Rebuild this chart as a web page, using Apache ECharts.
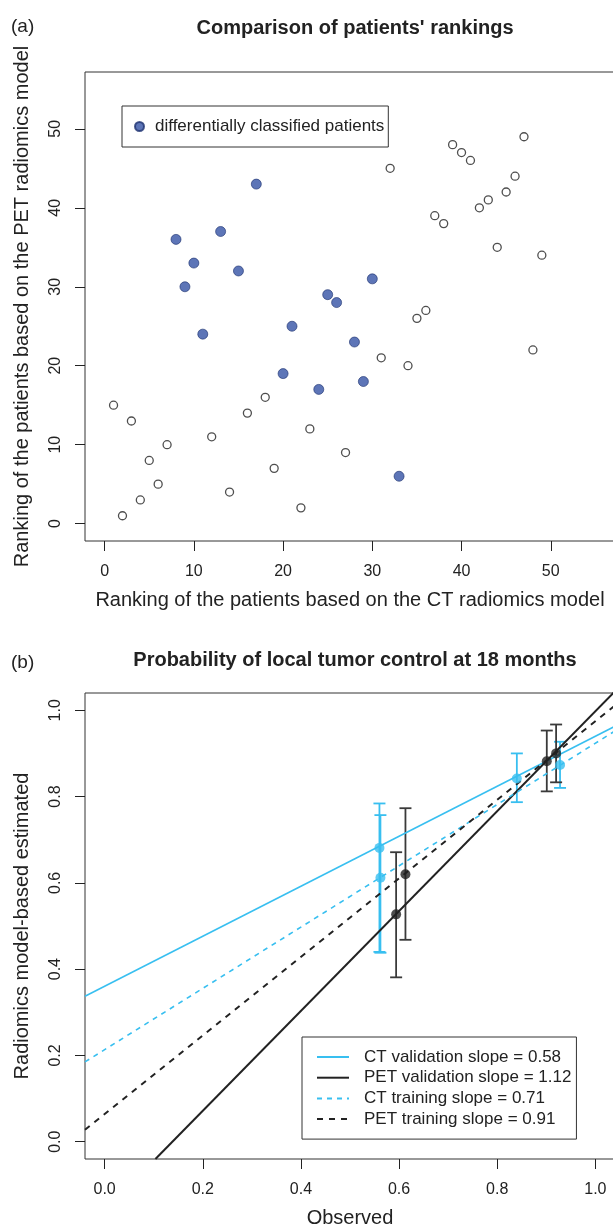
<!DOCTYPE html>
<html>
<head>
<meta charset="utf-8">
<script src="https://cdn.jsdelivr.net/npm/echarts@6/dist/echarts.min.js"></script>
<style>
  html, body { margin: 0; padding: 0; background: #fff; overflow: hidden; }
  #chart { width: 616px; height: 1229px; }
</style>
</head>
<body>
<div id="chart"></div>
<script>
// Panel (a): patient rankings, CT model (x) vs PET model (y)
const openCT = [1, 2, 3, 4, 5, 6, 7, 12, 14, 16, 18, 19, 22, 23, 27, 31, 32, 34, 35, 36, 37, 38, 39, 40, 41, 42, 43, 44, 45, 46, 47, 48, 49];
const openPET = [15, 1, 13, 3, 8, 5, 10, 11, 4, 14, 16, 7, 2, 12, 9, 21, 45, 20, 26, 27, 39, 38, 48, 47, 46, 40, 41, 35, 42, 44, 49, 22, 34];
const diffCT = [8, 9, 10, 11, 13, 15, 17, 20, 21, 24, 25, 26, 28, 29, 30, 33];
const diffPET = [36, 30, 33, 24, 37, 32, 43, 19, 25, 17, 29, 28, 23, 18, 31, 6];
const rankTicks = [0, 10, 20, 30, 40, 50];

// Panel (b): calibration points with error bars
const ctObs = [0.56, 0.562, 0.84, 0.928];
const ctEst = [0.681, 0.612, 0.842, 0.873];
const ctLow = [0.44, 0.438, 0.787, 0.82];
const ctHigh = [0.784, 0.757, 0.9, 0.927];
const petObs = [0.594, 0.613, 0.901, 0.92];
const petEst = [0.527, 0.62, 0.882, 0.9];
const petLow = [0.381, 0.468, 0.812, 0.833];
const petHigh = [0.671, 0.773, 0.953, 0.967];

// fitted calibration lines, end points
const ctValLine = [[-0.04, 0.337], [1.04, 0.963]];
const petValLine = [[0.1035, -0.04], [1.04, 1.044]];
const ctTrainLine = [[-0.04, 0.185], [1.04, 0.952]];
const petTrainLine = [[-0.04, 0.028], [1.04, 1.011]];
const probTicks = [0, 0.2, 0.4, 0.6, 0.8, 1.0];

const lineNames = [
  "CT validation slope = 0.58",
  "PET validation slope = 1.12",
  "CT training slope = 0.71",
  "PET training slope = 0.91",
];

const CYAN = "#38bff0";
const BLACK = "#222222";
const NAVY = "#3453a5";
const FONT = "Liberation Sans, Arial, sans-serif";

const chart = echarts.init(document.getElementById("chart"), null, { renderer: "canvas" });

function zip(a, b) {
  return a.map((v, i) => [v, b[i]]);
}

function errorBars(color, width) {
  return function (params, api) {
    const x = api.value(0);
    const lo = api.coord([x, api.value(1)]);
    const hi = api.coord([x, api.value(2)]);
    const w = 6;
    const style = { stroke: color, lineWidth: width };
    return {
      type: "group",
      children: [
        { type: "line", shape: { x1: lo[0], y1: lo[1], x2: hi[0], y2: hi[1] }, style: style },
        { type: "line", shape: { x1: lo[0] - w, y1: lo[1], x2: lo[0] + w, y2: lo[1] }, style: style },
        { type: "line", shape: { x1: hi[0] - w, y1: hi[1], x2: hi[0] + w, y2: hi[1] }, style: style },
      ],
    };
  };
}

const axisCommon = {
  type: "value",
  splitLine: { show: false },
  axisLine: { show: false, onZero: false },
  axisTick: { show: true, inside: false, length: 10, lineStyle: { color: BLACK, width: 1 } },
  nameTextStyle: { color: BLACK, fontSize: 20, fontFamily: FONT },
  nameLocation: "middle",
};

const labelStyle = { color: BLACK, fontSize: 16, fontFamily: FONT };
const titleStyle = { fontSize: 20, fontWeight: "bold", color: BLACK, fontFamily: FONT };
const tagStyle = { fontSize: 19, fontWeight: "normal", color: BLACK, fontFamily: FONT };

const option = {
  backgroundColor: "#fff",
  animation: false,
  title: [
    { text: "(a)", left: 6, top: 12, textStyle: tagStyle },
    { text: "Comparison of patients' rankings", left: 350, top: 13, textAlign: "center", textStyle: titleStyle },
    { text: "(b)", left: 6, top: 648, textStyle: tagStyle },
    { text: "Probability of local tumor control at 18 months", left: 350, top: 645, textAlign: "center", textStyle: titleStyle },
  ],
  grid: [
    { left: 85, top: 72, width: 530, height: 469, show: true, borderColor: "#333", borderWidth: 1, backgroundColor: "transparent" },
    { left: 85, top: 693, width: 530, height: 468, show: true, borderColor: "#333", borderWidth: 1, backgroundColor: "transparent" },
  ],
  xAxis: [
    Object.assign({}, axisCommon, {
      gridIndex: 0, min: -2.2, max: 57.2,
      name: "Ranking of the patients based on the CT radiomics model", nameGap: 49,
      axisTick: Object.assign({}, axisCommon.axisTick, { customValues: rankTicks }),
      axisLabel: Object.assign({}, labelStyle, { customValues: rankTicks, margin: 23 }),
    }),
    Object.assign({}, axisCommon, {
      gridIndex: 1, min: -0.04, max: 1.04,
      name: "Observed", nameGap: 49,
      axisTick: Object.assign({}, axisCommon.axisTick, { customValues: probTicks }),
      axisLabel: Object.assign({}, labelStyle, { customValues: probTicks, margin: 23, formatter: (v) => v.toFixed(1) }),
    }),
  ],
  yAxis: [
    Object.assign({}, axisCommon, {
      gridIndex: 0, min: -2.2, max: 57.2,
      name: "Ranking of the patients based on the PET radiomics model", nameGap: 53,
      axisTick: Object.assign({}, axisCommon.axisTick, { customValues: rankTicks }),
      axisLabel: Object.assign({}, labelStyle, { customValues: rankTicks, margin: 21, rotate: 90 }),
    }),
    Object.assign({}, axisCommon, {
      gridIndex: 1, min: -0.04, max: 1.04,
      name: "Radiomics model-based estimated", nameGap: 53,
      axisTick: Object.assign({}, axisCommon.axisTick, { customValues: probTicks }),
      axisLabel: Object.assign({}, labelStyle, { customValues: probTicks, margin: 21, rotate: 90, formatter: (v) => v.toFixed(1) }),
    }),
  ],
  legend: [
    {
      data: ["differentially classified patients"],
      left: 122, top: 106,
      orient: "vertical",
      icon: "circle",
      itemWidth: 9, itemHeight: 9,
      padding: [11, 4, 11, 12],
      borderColor: "#333", borderWidth: 1, borderRadius: 0,
      textStyle: { color: BLACK, fontSize: 17, fontFamily: FONT, lineHeight: 19, padding: [0, 0, 0, 6] },
      selectedMode: false,
    },
    {
      data: lineNames,
      left: 302, top: 1037,
      orient: "vertical",
      itemWidth: 32, itemHeight: 14, itemGap: 3.7,
      itemStyle: { opacity: 0 },
      padding: [11.5, 5, 11.5, 14],
      borderColor: "#333", borderWidth: 1, borderRadius: 0,
      textStyle: { color: BLACK, fontSize: 17, fontFamily: FONT, lineHeight: 17, padding: [0, 0, 0, 10] },
      selectedMode: false,
    },
  ],
  series: [
    {
      name: "similarly classified patients",
      type: "scatter", xAxisIndex: 0, yAxisIndex: 0,
      data: zip(openCT, openPET),
      symbol: "circle", symbolSize: 8,
      itemStyle: { color: "#fff", borderColor: BLACK, borderWidth: 1.3 },
    },
    {
      name: "differentially classified patients",
      type: "scatter", xAxisIndex: 0, yAxisIndex: 0,
      data: zip(diffCT, diffPET),
      symbol: "circle", symbolSize: 10,
      itemStyle: { color: NAVY, borderColor: "#1e3270", borderWidth: 0.8 },
    },
    {
      name: lineNames[0], type: "line", xAxisIndex: 1, yAxisIndex: 1,
      data: ctValLine, symbol: "none", clip: true,
      lineStyle: { color: CYAN, width: 1.6, type: "solid" }, itemStyle: { color: CYAN },
    },
    {
      name: lineNames[1], type: "line", xAxisIndex: 1, yAxisIndex: 1,
      data: petValLine, symbol: "none", clip: true,
      lineStyle: { color: BLACK, width: 2, type: "solid" }, itemStyle: { color: BLACK },
    },
    {
      name: lineNames[2], type: "line", xAxisIndex: 1, yAxisIndex: 1,
      data: ctTrainLine, symbol: "none", clip: true,
      lineStyle: { color: CYAN, width: 1.6, type: [5, 5] }, itemStyle: { color: CYAN },
    },
    {
      name: lineNames[3], type: "line", xAxisIndex: 1, yAxisIndex: 1,
      data: petTrainLine, symbol: "none", clip: true,
      lineStyle: { color: BLACK, width: 2, type: [6, 6] }, itemStyle: { color: BLACK },
    },
    {
      name: "CT error bars", type: "custom", xAxisIndex: 1, yAxisIndex: 1,
      renderItem: errorBars(CYAN, 1.8),
      encode: { x: 0, y: [1, 2] },
      data: ctObs.map((x, i) => [x, ctLow[i], ctHigh[i]]),
      z: 3,
    },
    {
      name: "PET error bars", type: "custom", xAxisIndex: 1, yAxisIndex: 1,
      renderItem: errorBars("#3a3a3a", 1.8),
      encode: { x: 0, y: [1, 2] },
      data: petObs.map((x, i) => [x, petLow[i], petHigh[i]]),
      z: 3,
    },
    {
      name: "CT points", type: "scatter", xAxisIndex: 1, yAxisIndex: 1,
      data: zip(ctObs, ctEst), symbol: "circle", symbolSize: 10,
      itemStyle: { color: CYAN }, z: 4,
    },
    {
      name: "PET points", type: "scatter", xAxisIndex: 1, yAxisIndex: 1,
      data: zip(petObs, petEst), symbol: "circle", symbolSize: 10,
      itemStyle: { color: BLACK }, z: 4,
    },
  ],
};

chart.setOption(option);
</script>
</body>
</html>
